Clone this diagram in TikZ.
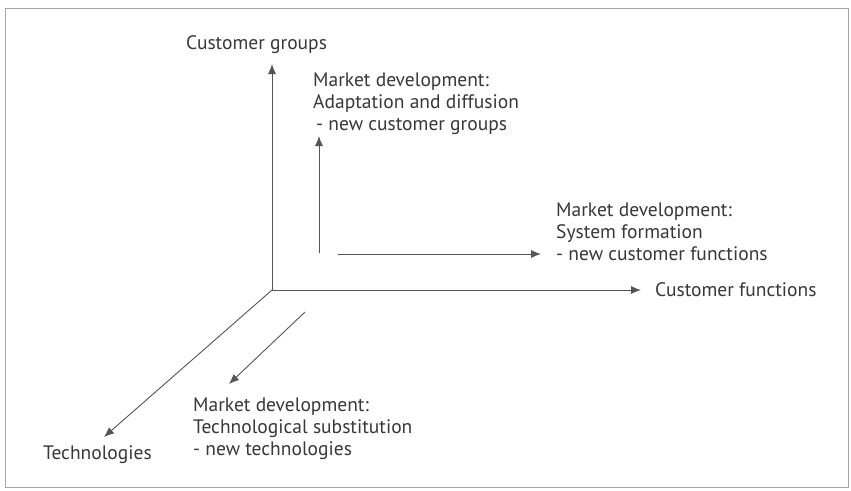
\documentclass[tikz,border=0pt]{standalone}
\usepackage{fontspec}
\setmainfont{PT Sans}
\usetikzlibrary{arrows.meta}
\definecolor{txt}{HTML}{383838}
\definecolor{ln}{HTML}{555555}
\tikzset{
  axis/.style={draw=ln, line width=0.9pt, -{Latex[length=10pt,width=8pt]}},
  lbl/.style={text=txt, font=\fontsize{19.5}{22}\selectfont, inner sep=0pt, align=left},
}
\begin{document}
\begin{tikzpicture}[x=1pt,y=-1pt]
\useasboundingbox (0,0) rectangle (851,490);
\fill[white] (0,0) rectangle (851,490);
\draw[draw=gray!70, line width=0.8pt] (5,8) rectangle (848,487);
% coordinates
\coordinate (O) at (272,290);
\coordinate (CGtip) at (272,64);
\coordinate (CFtip) at (641,290);
\coordinate (Ttip) at (104,437);
\coordinate (a1) at (319,253);
\coordinate (a2) at (319,136);
\coordinate (b1) at (338,254);
\coordinate (b2) at (541,254);
\coordinate (c1) at (305,312);
\coordinate (c2) at (229,384);
% labels (multi-line nodes: base = baseline of last line)
\node[lbl, anchor=base west] (cg) at (186,49) {Customer groups};
\node[lbl, anchor=base west] (cf) at (655,296) {Customer functions};
\node[lbl, anchor=base west] (tech) at (43,459) {Technologies};
\node[lbl, anchor=base west] (md1) at (313,130) {Market development:\\Adaptation and diffusion\\\hspace{3pt}- new customer groups};
\node[lbl, anchor=base west] (md2) at (556,260) {Market development:\\System formation\\- new customer functions};
\node[lbl, anchor=base west] (md3) at (193,455) {Market development:\\Technological substitution\\- new technologies};
% arrows
\draw[axis] (O) -- (CGtip);
\draw[axis] (O) -- (CFtip);
\draw[axis] (O) -- (Ttip);
\draw[axis] (a1) -- (a2);
\draw[axis] (b1) -- (b2);
\draw[axis] (c1) -- (c2);
\end{tikzpicture}
\end{document}
